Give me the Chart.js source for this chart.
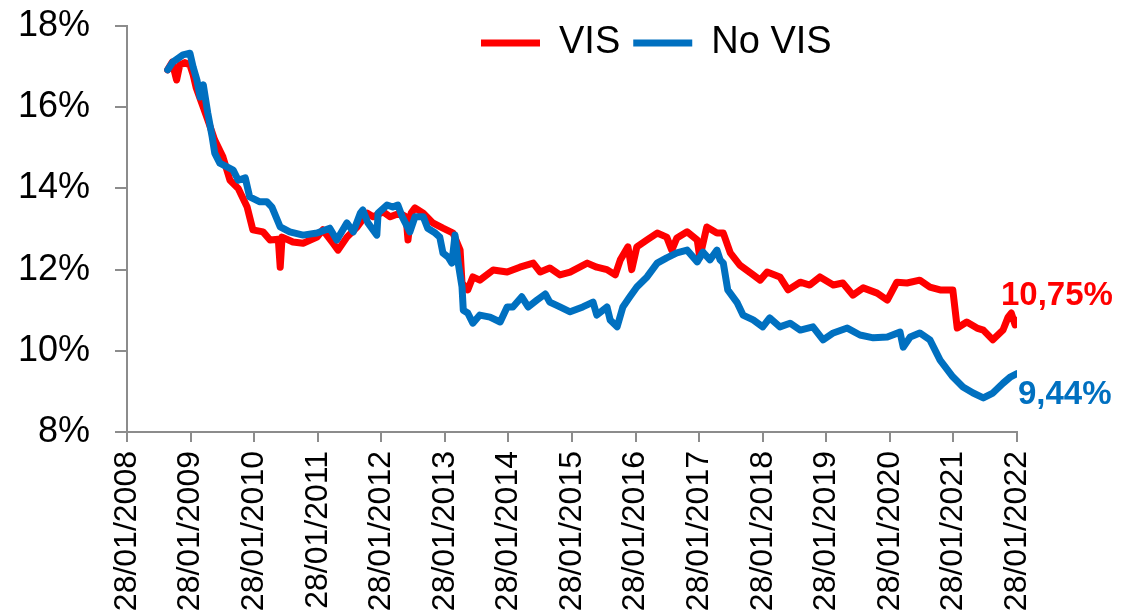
<!DOCTYPE html>
<html>
<head>
<meta charset="utf-8">
<script src="https://cdn.jsdelivr.net/npm/chart.js@4.4.1/dist/chart.umd.min.js"></script>
<style>
  html, body { margin: 0; padding: 0; background: #ffffff; }
  #wrap { width: 1125px; height: 611px; }
</style>
</head>
<body>
<div id="wrap"><canvas id="c" width="1125" height="611"></canvas></div>
<script>
// ---- Data (decimal years, percent values) ----
const seriesNames = ['VIS', 'No VIS'];
const endLabels = ['10,75%', '9,44%'];
const tickPrefix = '28/01/';

const visYears = [2008.64, 2008.71, 2008.78, 2008.83, 2008.91, 2008.99, 2009.04, 2009.09, 2009.20, 2009.29,
  2009.38, 2009.51, 2009.62, 2009.75, 2009.89, 2009.98, 2010.14, 2010.25, 2010.38, 2010.41,
  2010.44, 2010.61, 2010.77, 2010.99, 2011.08, 2011.24, 2011.32, 2011.46, 2011.62, 2011.78,
  2011.87, 2012.03, 2012.14, 2012.29, 2012.39, 2012.42, 2012.47, 2012.53, 2012.66, 2012.81,
  2012.97, 2013.13, 2013.24, 2013.27, 2013.36, 2013.44, 2013.55, 2013.76, 2013.98, 2014.18,
  2014.39, 2014.50, 2014.65, 2014.81, 2014.97, 2015.24, 2015.39, 2015.55, 2015.68, 2015.76,
  2015.88, 2015.94, 2016.02, 2016.18, 2016.34, 2016.49, 2016.57, 2016.65, 2016.81, 2016.97,
  2017.01, 2017.12, 2017.28, 2017.38, 2017.49, 2017.64, 2017.85, 2017.96, 2018.07, 2018.27,
  2018.40, 2018.59, 2018.74, 2018.90, 2019.11, 2019.26, 2019.42, 2019.58, 2019.80, 2019.96,
  2020.11, 2020.27, 2020.47, 2020.63, 2020.79, 2020.99, 2021.06, 2021.21, 2021.37, 2021.47,
  2021.62, 2021.78, 2021.86, 2021.91, 2021.97, 2022.00];
const visValues = [16.92, 17.11, 16.67, 17.04, 17.10, 17.04, 16.80, 16.47, 16.00, 15.60,
  15.19, 14.77, 14.20, 14.00, 13.54, 12.98, 12.93, 12.73, 12.75, 12.06,
  12.80, 12.68, 12.65, 12.80, 12.98, 12.65, 12.48, 12.80, 13.05, 13.39,
  13.30, 13.42, 13.30, 13.39, 13.30, 12.73, 13.39, 13.52, 13.39, 13.15,
  13.02, 12.90, 12.48, 11.67, 11.50, 11.82, 11.74, 11.99, 11.94, 12.06,
  12.16, 11.94, 12.04, 11.87, 11.94, 12.16, 12.06, 12.00, 11.87, 12.24,
  12.56, 12.00, 12.56, 12.73, 12.90, 12.80, 12.48, 12.78, 12.93, 12.73,
  12.30, 13.05, 12.90, 12.90, 12.41, 12.11, 11.87, 11.74, 11.94, 11.82,
  11.50, 11.69, 11.62, 11.82, 11.62, 11.67, 11.37, 11.55, 11.42, 11.25,
  11.69, 11.67, 11.74, 11.57, 11.50, 11.50, 10.56, 10.71, 10.56, 10.51,
  10.27, 10.51, 10.83, 10.93, 10.64, 10.75];

const noVisYears = [2008.64, 2008.72, 2008.88, 2008.99, 2009.04, 2009.10, 2009.15, 2009.20, 2009.27, 2009.34,
  2009.38, 2009.46, 2009.67, 2009.75, 2009.86, 2009.93, 2010.09, 2010.20, 2010.28, 2010.41,
  2010.56, 2010.77, 2010.99, 2011.19, 2011.30, 2011.46, 2011.56, 2011.67, 2011.71, 2011.79,
  2011.93, 2011.95, 2012.09, 2012.18, 2012.26, 2012.33, 2012.45, 2012.53, 2012.66, 2012.73,
  2012.85, 2012.92, 2012.97, 2013.05, 2013.11, 2013.16, 2013.21, 2013.27, 2013.29, 2013.36,
  2013.44, 2013.55, 2013.71, 2013.87, 2013.98, 2014.07, 2014.21, 2014.31, 2014.45, 2014.58,
  2014.65, 2014.81, 2014.97, 2015.17, 2015.33, 2015.39, 2015.55, 2015.60, 2015.71, 2015.80,
  2015.91, 2016.02, 2016.18, 2016.34, 2016.49, 2016.65, 2016.81, 2016.97, 2017.06, 2017.17,
  2017.28, 2017.33, 2017.38, 2017.45, 2017.60, 2017.69, 2017.85, 2018.00, 2018.11, 2018.27,
  2018.43, 2018.59, 2018.79, 2018.95, 2019.11, 2019.33, 2019.53, 2019.74, 2019.96, 2020.16,
  2020.21, 2020.32, 2020.47, 2020.63, 2020.79, 2020.99, 2021.15, 2021.31, 2021.47, 2021.62,
  2021.78, 2021.90, 2022.00];
const noVisValues = [16.92, 17.11, 17.29, 17.33, 16.99, 16.67, 16.25, 16.55, 15.86, 15.27,
  14.87, 14.62, 14.45, 14.20, 14.26, 13.79, 13.67, 13.67, 13.54, 13.05,
  12.93, 12.85, 12.90, 13.02, 12.73, 13.15, 12.93, 13.39, 13.47, 13.15,
  12.85, 13.39, 13.59, 13.54, 13.59, 13.30, 12.93, 13.30, 13.30, 13.02,
  12.90, 12.80, 12.41, 12.31, 12.16, 12.85, 12.16, 11.57, 11.00, 10.93,
  10.68, 10.88, 10.83, 10.71, 11.08, 11.08, 11.33, 11.08, 11.25, 11.40,
  11.20, 11.08, 10.96, 11.08, 11.20, 10.88, 11.08, 10.76, 10.59, 11.08,
  11.33, 11.57, 11.82, 12.16, 12.29, 12.41, 12.48, 12.19, 12.43, 12.24,
  12.48, 12.24, 12.16, 11.50, 11.18, 10.88, 10.76, 10.59, 10.81, 10.59,
  10.68, 10.51, 10.59, 10.27, 10.44, 10.56, 10.39, 10.32, 10.34, 10.46,
  10.09, 10.34, 10.44, 10.27, 9.77, 9.36, 9.11, 8.96, 8.84, 8.96,
  9.20, 9.36, 9.44];

const yMin = 8, yMax = 18, yStep = 2;
const xMin = 2008, xMax = 2022;

const RED = '#FF0000';
const BLUE = '#0070C0';
const AXIS = '#8c8c8c';
const FONT = "'Liberation Sans', Arial, sans-serif";

function toPoints(xs, ys) { return xs.map((x, i) => ({ x: x, y: ys[i] })); }

// Legend lives inside the plot, in one row, at the original's place
const legendPlacer = {
  id: 'legendPlacer',
  beforeLayout(chart) {
    if (chart.legend) chart.legend.isHorizontal = () => true;
  },
  afterLayout(chart) {
    const lg = chart.legend;
    if (!lg) return;
    const h = lg.height;
    lg.left = 468; lg.right = 468 + 560;
    lg.top = 11; lg.bottom = 11 + h;
  }
};

// End-of-line value labels anchored at the last point of each series
const endLabelPlugin = {
  id: 'endLabels',
  afterDatasetsDraw(chart) {
    const ctx = chart.ctx;
    ctx.save();
    ctx.font = "bold 33px " + FONT;
    ctx.textBaseline = 'alphabetic';
    ctx.textAlign = 'left';
    const offs = [[-16, -15], [1, 30]];
    chart.data.datasets.forEach((ds, i) => {
      const meta = chart.getDatasetMeta(i);
      const last = meta.data[meta.data.length - 1];
      ctx.fillStyle = ds.borderColor;
      ctx.fillText(endLabels[i], last.x + offs[i][0], last.y + offs[i][1]);
    });
    ctx.restore();
  }
};

new Chart(document.getElementById('c'), {
  type: 'line',
  data: {
    datasets: [
      {
        label: seriesNames[0],
        data: toPoints(visYears, visValues),
        borderColor: RED,
        backgroundColor: RED,
        borderWidth: 7,
        borderCapStyle: 'round',
        borderJoinStyle: 'round',
        pointRadius: 0,
        tension: 0,
        order: 2
      },
      {
        label: seriesNames[1],
        data: toPoints(noVisYears, noVisValues),
        borderColor: BLUE,
        backgroundColor: BLUE,
        borderWidth: 7,
        borderCapStyle: 'round',
        borderJoinStyle: 'round',
        pointRadius: 0,
        tension: 0,
        order: 1
      }
    ]
  },
  options: {
    responsive: false,
    animation: false,
    devicePixelRatio: 1,
    layout: { padding: { top: 26, right: 108, bottom: 0, left: 0 } },
    plugins: {
      legend: {
        position: 'chartArea',
        align: 'start',
        labels: {
          usePointStyle: true,
          pointStyle: 'line',
          pointStyleWidth: 59,
          padding: 13,
          color: '#000000',
          font: { family: FONT, size: 38 },
          sort: (a, b) => a.datasetIndex - b.datasetIndex
        }
      },
      tooltip: { enabled: false }
    },
    scales: {
      x: {
        type: 'linear',
        min: xMin,
        max: xMax,
        afterFit(scale) { scale.height = 179; },
        afterBuildTicks(scale) {
          const t = [];
          for (let v = xMin; v <= xMax; v++) t.push({ value: v });
          scale.ticks = t;
        },
        ticks: {
          stepSize: 1,
          autoSkip: false,
          minRotation: 90,
          maxRotation: 90,
          padding: 9,
          color: '#000000',
          font: { family: FONT, size: 32 },
          callback: (v) => tickPrefix + v
        },
        grid: {
          display: true,
          drawOnChartArea: false,
          drawTicks: true,
          tickLength: 10,
          color: AXIS,
          lineWidth: 2
        },
        border: { display: true, color: AXIS, width: 2 }
      },
      y: {
        min: yMin,
        max: yMax,
        afterFit(scale) {
          scale.width = 127;
          scale.paddingTop = 0;
          scale.paddingBottom = 0;
        },
        ticks: {
          stepSize: yStep,
          padding: 25,
          color: '#000000',
          font: { family: FONT, size: 36 },
          callback: (v) => v + '%'
        },
        grid: {
          display: true,
          drawOnChartArea: false,
          drawTicks: true,
          tickLength: 12,
          color: AXIS,
          lineWidth: 2
        },
        border: { display: true, color: AXIS, width: 2 }
      }
    }
  },
  plugins: [legendPlacer, endLabelPlugin]
});
</script>
</body>
</html>
